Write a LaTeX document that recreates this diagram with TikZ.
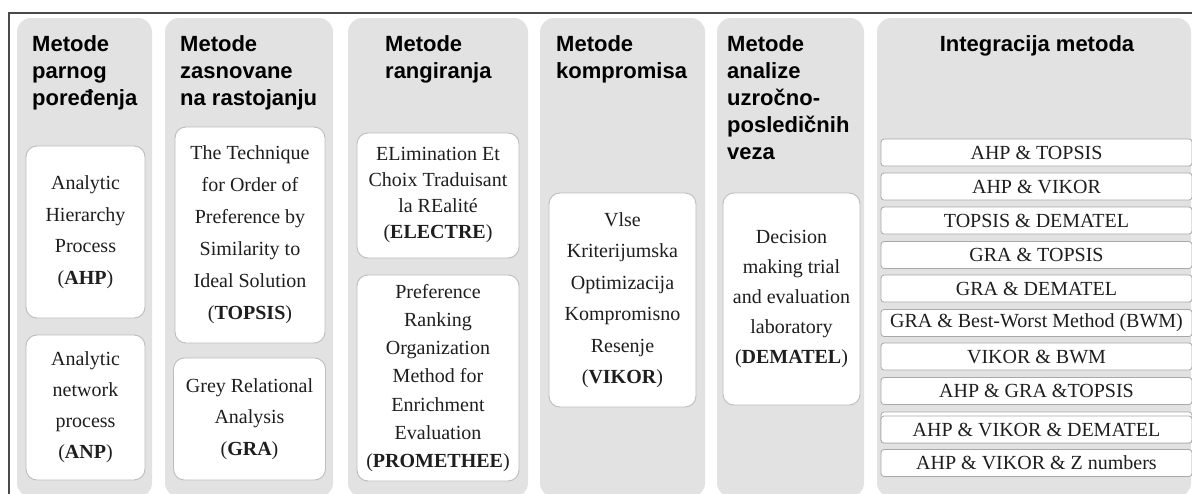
\documentclass[tikz,border=0pt]{standalone}
\usepackage{fontspec}
\setmainfont{Liberation Serif}
\newfontfamily\hdfont{Liberation Sans}
\definecolor{colgray}{HTML}{E2E2E2}
\definecolor{boxborder}{HTML}{BDBDBD}
\definecolor{rowborder}{HTML}{A8A8A8}
\definecolor{textc}{HTML}{1E1E1E}
\definecolor{framec}{HTML}{4A4A4A}
\begin{document}
\begin{tikzpicture}[x=1pt,y=-1pt,
  colbg/.style={fill=colgray, rounded corners=14pt},
  wbox/.style={fill=white, draw=boxborder, line width=0.9pt, rounded corners=11pt, align=center, inner sep=0pt, text=textc},
  rowbox/.style={fill=white, draw=rowborder, line width=0.8pt, rounded corners=3pt, inner sep=0pt, text=textc,
     minimum width=311pt, minimum height=27pt, font=\fontsize{20}{24}\selectfont},
  hd/.style={font=\hdfont\bfseries\fontsize{22}{27}\selectfont, align=left, inner sep=0pt, anchor=base west},
  ls/.style={font=\fontsize{20}{#1}\selectfont}
]
\useasboundingbox (0,0) rectangle (1192,493);
% outer frame
\draw[framec, line width=1.3pt] (9,520) -- (9,13) -- (1200,13);
% columns
\path[colbg] (17,18) rectangle (152,497);
\path[colbg] (165,18) rectangle (333,497);
\path[colbg] (348,18) rectangle (528,497);
\path[colbg] (540,18) rectangle (705,497);
\path[colbg] (717,18) rectangle (864,497);
\path[colbg] (877,18) rectangle (1191,497);
% headers (anchor = baseline of last line)
\node[hd] (h1) at (32,105) {Metode\\parnog\\poređenja};
\node[hd] (h2) at (180,105) {Metode\\zasnovane\\na rastojanju};
\node[hd] (h3) at (385,78) {Metode\\rangiranja};
\node[hd] (h4) at (556,78) {Metode\\kompromisa};
\node[hd] (h5) at (727,159) {Metode\\analize\\uzročno-\\posledičnih\\veza};
\node[hd, anchor=base] (h6) at (1037,51) {Integracija metoda};
% column 1
\node[wbox, ls=31.5, minimum width=119pt, minimum height=172pt] (ahp) at (85.5,232)
  {Analytic\\Hierarchy\\Process\\(\textbf{AHP})};
\node[wbox, ls=31, minimum width=119pt, minimum height=145pt] (anp) at (85.5,407.5)
  {Analytic\\network\\process\\(\textbf{ANP})};
% column 2
\node[wbox, ls=32, minimum width=150pt, minimum height=216pt] (topsis) at (250,235)
  {The Technique\\for Order of\\Preference by\\Similarity to\\Ideal Solution\\(\textbf{TOPSIS})};
\node[wbox, ls=31.5, minimum width=152pt, minimum height=122pt] (gra) at (249.5,419)
  {Grey Relational\\Analysis\\(\textbf{GRA})};
% column 3
\node[wbox, ls=26, minimum width=162pt, minimum height=125pt] (electre) at (438,195.5)
  {ELimination Et\\Choix Traduisant\\la REalité\\(\textbf{ELECTRE})};
\node[wbox, ls=28.3, minimum width=162pt, minimum height=206pt] (promethee) at (438,378)
  {Preference\\Ranking\\Organization\\Method for\\Enrichment\\Evaluation\\(\textbf{PROMETHEE})};
% column 4
\node[wbox, ls=31.5, minimum width=147pt, minimum height=214pt] (vikor) at (622.5,300)
  {Vlse\\Kriterijumska\\Optimizacija\\Kompromisno\\Resenje\\(\textbf{VIKOR})};
% column 5
\node[wbox, ls=30, minimum width=137pt, minimum height=212pt] (dematel) at (791.5,299)
  {Decision\\making trial\\and evaluation\\laboratory\\(\textbf{DEMATEL})};
% column 6
\node[rowbox] (r1) at (1036.5,152.5) {AHP \& TOPSIS};
\node[rowbox] (r2) at (1036.5,186.5) {AHP \& VIKOR};
\node[rowbox] (r3) at (1036.5,220.5) {TOPSIS \& DEMATEL};
\node[rowbox] (r4) at (1036.5,255) {GRA \& TOPSIS};
\node[rowbox] (r5) at (1036.5,288.5) {GRA \& DEMATEL};
\node[rowbox] (r6) at (1036.5,323) {GRA \& Best-Worst Method (BWM)};
\node[rowbox] (r7) at (1036.5,356.5) {VIKOR \& BWM};
\node[rowbox] (r8) at (1036.5,391) {AHP \& GRA \&TOPSIS};
\node[rowbox, minimum height=31pt] (r9b) at (1036.5,427.5) {};
\node[rowbox] (r9) at (1036.5,429.5) {AHP \& VIKOR \& DEMATEL};
\node[rowbox] (r10) at (1036.5,463) {AHP \& VIKOR \& Z numbers};
\end{tikzpicture}
\end{document}
